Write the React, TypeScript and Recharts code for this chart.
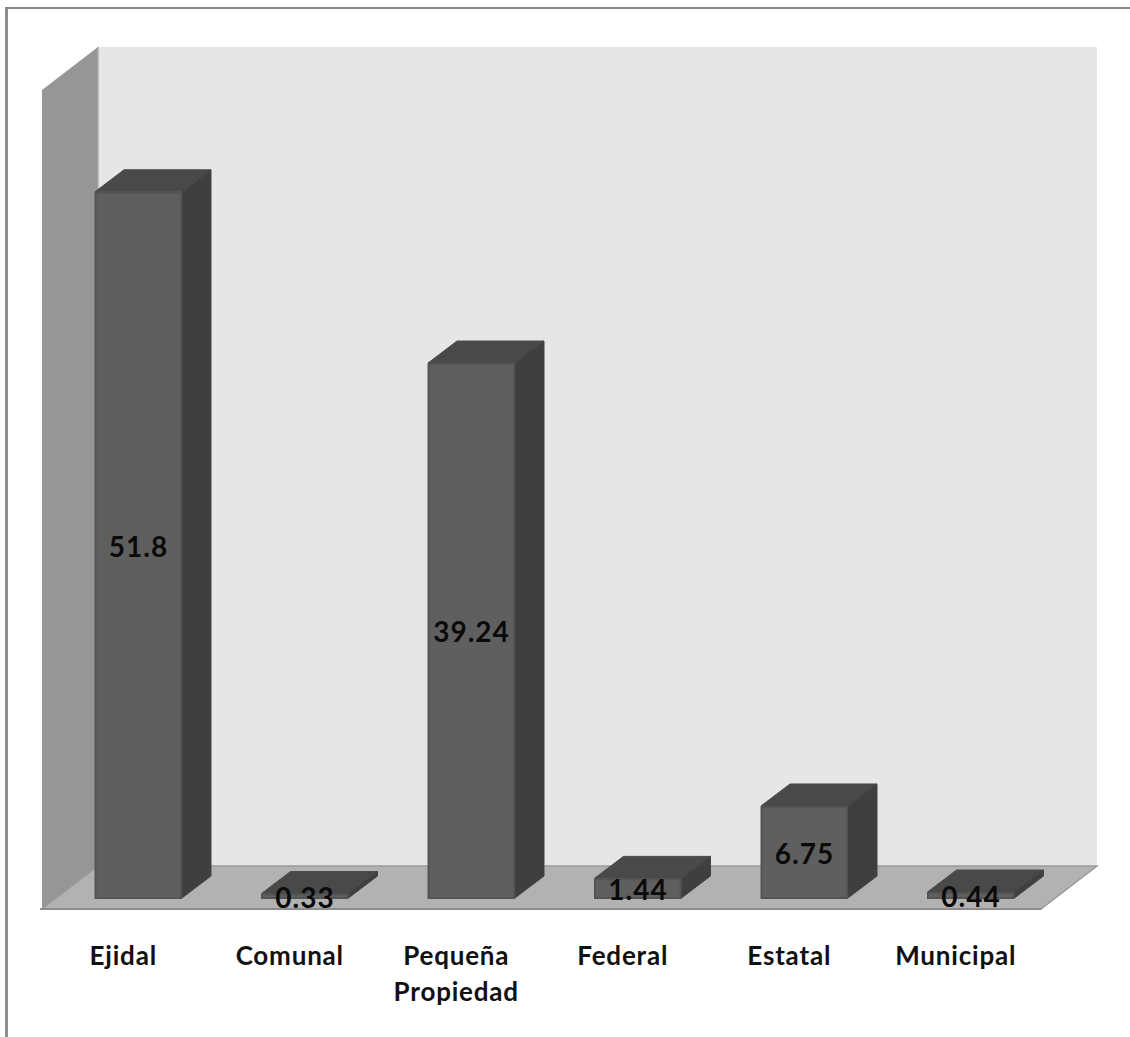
import { Bar, BarChart, LabelList, XAxis, YAxis, usePlotArea } from "recharts";

const CATEGORIES = ["Ejidal", "Comunal", "Pequeña Propiedad", "Federal", "Estatal", "Municipal"];
const VALUES = [51.8, 0.33, 39.24, 1.44, 6.75, 0.44];
const Y_DOMAIN = [0, 60];

const rows = CATEGORIES.map((name, i) => ({ name, value: VALUES[i] }));

const FONT = "Lato, 'Noto Sans', sans-serif";

// depth of a bar and of the whole box, in px
const BAR_DX = 29;
const BAR_DY = 22;
const BOX_DX = 56;
const BOX_DY = 43;
// the front floor edge sits slightly outside the plot area
const FRONT_DX = 13;
const FRONT_DY = 11;

function pts(list: number[][]) {
  return list.map((p) => p.join(",")).join(" ");
}

function Walls() {
  const plot = usePlotArea();
  if (!plot) {
    return null;
  }
  const left = plot.x - FRONT_DX;
  const right = plot.x + plot.width - FRONT_DX;
  const top = plot.y + FRONT_DY - 1;
  const bottom = plot.y + plot.height + FRONT_DY;

  return (
    <g>
      <rect
        x={left + BOX_DX}
        y={top - BOX_DY}
        width={right - left}
        height={bottom - top}
        fill="#e6e6e6"
      />
      <polygon
        points={pts([
          [left, top],
          [left + BOX_DX, top - BOX_DY],
          [left + BOX_DX, bottom - BOX_DY],
          [left, bottom],
        ])}
        fill="#969696"
      />
      <line
        x1={left + BOX_DX}
        y1={top - BOX_DY}
        x2={left + BOX_DX}
        y2={bottom - BOX_DY}
        stroke="#a9a9a9"
        strokeWidth={1.5}
      />
      <polygon
        points={pts([
          [left, bottom],
          [left + BOX_DX, bottom - BOX_DY],
          [right + BOX_DX, bottom - BOX_DY],
          [right, bottom],
        ])}
        fill="#b2b2b2"
        stroke="#9a9a9a"
        strokeWidth={1.5}
      />
      <line x1={left - 2} y1={bottom} x2={right} y2={bottom} stroke="#8c8c8c" strokeWidth={2} />
    </g>
  );
}

function Box3D({ x, y, width, height }: any) {
  const r = x + width;
  const b = y + height;
  return (
    <g>
      <polygon
        points={pts([
          [x, y],
          [x + BAR_DX, y - BAR_DY],
          [r + BAR_DX, y - BAR_DY],
          [r, y],
        ])}
        fill="#494949"
        stroke="#4b4b4b"
      />
      <polygon
        points={pts([
          [r, y],
          [r + BAR_DX, y - BAR_DY],
          [r + BAR_DX, b - BAR_DY],
          [r, b],
        ])}
        fill="#3f3f3f"
        stroke="#444444"
      />
      {/* stroke kept mostly inside the bar so the front face stays at its scaled size */}
      <rect
        x={x + 0.5}
        y={y + 1}
        width={width - 1.5}
        height={Math.max(height - 1, 0)}
        fill="#5f5f5f"
        stroke="#545454"
        strokeWidth={2}
      />
    </g>
  );
}

function CategoryTick({ x, y, payload }: any) {
  const lines = String(payload.value).split(" ");
  return (
    <text
      x={x - 15}
      y={y}
      textAnchor="middle"
      fontFamily={FONT}
      fontWeight={700}
      fontSize={26}
      letterSpacing={0.8}
      fill="#111111"
    >
      {lines.map((line, i) => (
        <tspan key={line} x={x - 15} dy={i === 0 ? 59 : 36}>
          {line}
        </tspan>
      ))}
    </text>
  );
}

export default function App() {
  return (
    <div style={{ position: "absolute", left: 0, top: 0, width: 1130, height: 1037, background: "#ffffff", overflow: "hidden" }}>
      <div
        style={{
          position: "absolute",
          left: 5,
          top: 7,
          right: 0,
          bottom: 0,
          borderLeft: "3px solid #8e8e8e",
          borderTop: "2px solid #858585",
        }}
      />
      <div style={{ position: "absolute", left: 0, top: 0 }}>
        <BarChart
          width={1130}
          height={1037}
          data={rows}
          barCategoryGap={40}
          margin={{ top: 80, right: 76, bottom: 0, left: 55 }}
        >
          <Walls />
          <XAxis dataKey="name" height={139} axisLine={false} tickLine={false} interval={0} tick={<CategoryTick />} />
          <YAxis hide domain={Y_DOMAIN} />
          <Bar dataKey="value" shape={<Box3D />} isAnimationActive={false}>
            <LabelList
              dataKey="value"
              position="center"
              dy={2}
              fill="#0a0a0a"
              fontFamily={FONT}
              fontWeight={700}
              fontSize={28}
              letterSpacing={1}
            />
          </Bar>
        </BarChart>
      </div>
    </div>
  );
}
